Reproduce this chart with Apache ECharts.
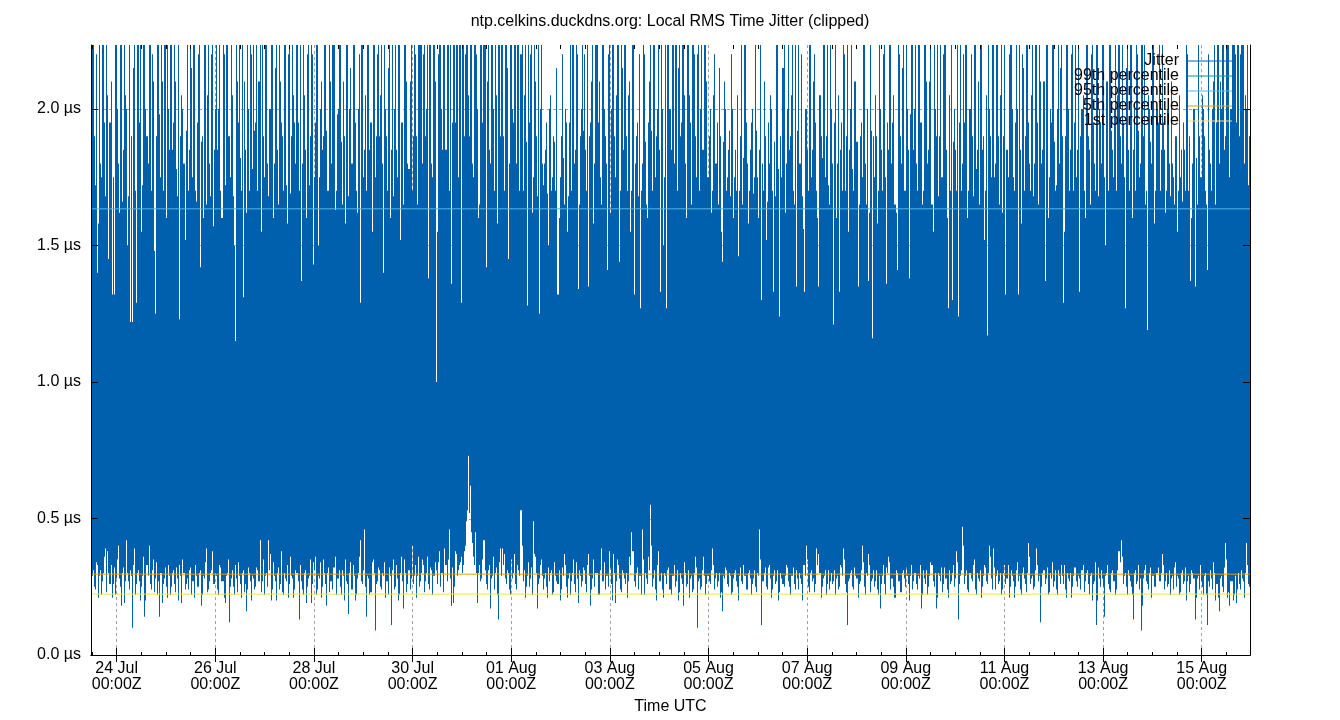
<!DOCTYPE html>
<html>
<head>
<meta charset="utf-8">
<script src="https://cdn.jsdelivr.net/npm/echarts@6/dist/echarts.min.js"></script>
<style>html,body{margin:0;padding:0;background:#fff}#chart{width:1340px;height:720px}</style>
</head>
<body>
<div id="chart"></div>
<script>
// Half-hourly jitter samples (µs): peak and dip of each
// half-hour column, split into the ":00" and ":30" halves of every hour.
const peaksOnHour = [
1.85,2.5,1.72,1.40,2.6,1.75,2.7,1.68,2.05,1.95,1.32,1.32,2.6,1.8,2.6,1.66,2.4,2.0,1.68,1.22,
1.22,2.5,1.29,2.7,2.3,1.72,2.6,1.9,2.8,1.7,2.1,1.25,2.5,1.98,2.6,1.7,2.8,2.3,1.85,2.6,
1.95,2.1,1.68,1.23,2.05,1.8,1.92,1.7,2.4,1.75,2.6,1.66,2.2,1.42,1.9,2.7,1.65,2.5,1.68,2.6,
1.85,2.6,2.0,1.7,2.5,1.72,2.8,1.9,2.6,1.68,1.15,2.1,2.7,1.7,1.31,1.85,2.4,1.7,2.2,2.6,
1.95,1.7,2.6,2.3,1.75,2.7,1.68,2.0,2.6,1.8,2.5,1.65,2.1,1.9,2.6,1.72,2.2,1.69,2.8,1.95,
2.5,1.7,1.37,2.6,1.85,2.2,1.72,2.7,1.43,1.95,2.6,1.75,2.1,1.9,2.5,1.7,2.3,1.8,2.6,1.7,
2.0,2.6,1.65,1.9,2.7,1.68,2.15,1.8,2.5,1.7,2.0,1.29,2.6,1.85,1.7,2.4,1.95,2.6,1.75,2.2,
1.9,2.5,1.40,2.0,1.7,2.6,1.85,1.68,2.3,1.75,2.6,1.95,1.65,2.7,1.8,2.1,1.7,2.5,1.9,2.6,
2.6,1.8,2.7,2.0,1.38,2.6,1.75,2.5,1.00,2.2,2.7,1.85,2.6,2.4,1.7,1.36,2.6,1.95,2.8,2.5,
1.29,2.6,2.2,2.7,1.9,2.6,1.75,2.5,2.0,1.65,2.6,2.3,1.42,2.7,1.8,2.5,1.7,2.05,2.6,1.9,
2.6,1.7,2.4,1.45,2.7,2.0,2.6,1.8,2.5,2.2,1.7,2.6,1.28,1.95,2.7,1.75,2.1,1.68,1.25,2.6,
1.72,1.85,1.69,2.0,1.7,1.9,1.7,1.32,1.75,2.2,1.65,1.95,1.68,2.6,2.7,1.8,2.5,1.34,1.9,2.6,
2.2,1.7,1.35,1.95,2.6,1.8,2.5,2.1,1.65,2.6,1.9,1.41,2.7,2.0,2.5,1.75,2.3,1.44,2.6,1.85,
2.5,1.7,2.1,1.7,1.32,1.9,1.68,1.27,1.8,2.2,1.65,1.95,2.6,1.7,2.4,1.9,2.6,1.33,2.0,1.75,
1.27,2.6,1.85,2.3,2.6,1.7,2.7,1.95,2.6,1.8,2.5,2.05,1.65,2.6,1.9,2.2,1.7,2.4,1.85,2.6,
1.75,2.0,1.7,2.2,1.8,1.65,1.9,1.44,2.1,1.7,1.85,1.68,2.0,1.75,1.7,1.46,1.9,1.65,2.6,1.8,
1.7,1.95,1.69,2.6,1.75,1.85,1.30,1.7,1.9,1.66,1.8,2.0,1.33,1.68,2.6,1.24,1.75,2.7,1.8,2.6,
1.9,2.3,1.65,1.35,2.6,1.8,1.68,1.33,2.0,1.7,2.6,1.85,2.2,1.7,1.35,1.9,2.5,1.75,2.6,1.65,
2.0,1.21,2.6,1.8,1.33,1.95,2.6,1.7,2.3,1.85,2.6,1.7,2.1,1.35,1.9,1.75,2.4,1.65,1.37,2.6,
1.16,1.75,1.9,1.7,2.0,1.7,2.6,1.36,1.85,2.6,1.95,1.65,1.41,2.2,1.8,2.6,1.7,2.0,1.38,2.6,
1.85,2.6,1.7,2.5,1.95,1.7,2.6,1.8,2.1,1.65,2.6,1.9,1.68,2.3,1.75,2.6,1.85,1.27,1.7,1.30,
2.0,1.7,1.24,2.6,1.8,1.95,2.6,1.7,2.2,1.68,2.6,1.85,1.65,2.5,1.9,1.7,1.17,2.0,1.75,2.6,
1.8,2.3,1.65,2.6,1.9,1.32,1.75,2.6,2.0,1.7,2.6,1.32,1.85,2.2,1.7,2.6,1.95,1.7,2.5,1.8,
2.6,1.65,2.1,1.85,1.37,2.6,1.75,1.95,2.6,1.7,2.0,1.8,2.6,1.29,1.9,2.5,1.7,2.2,1.7,2.6,
1.85,1.33,2.0,1.7,2.6,1.9,1.65,2.3,1.8,2.6,1.68,1.95,2.6,1.75,2.1,1.7,2.6,1.85,2.0,1.7,
2.6,1.8,1.95,1.27,2.5,1.7,2.6,1.85,1.7,2.2,1.75,2.6,1.9,1.65,1.19,2.0,1.8,2.6,1.7,1.95,
1.7,2.6,1.85,1.7,2.0,1.68,1.8,1.65,1.9,1.7,1.75,1.66,1.85,2.6,1.7,1.37,1.8,1.35,1.65,1.9,
1.75,2.0,1.7,1.41,1.85,1.7,2.1,1.65,2.6,1.8,2.0,2.6,1.9,2.5,1.75,2.6,2.7,1.95,2.6,2.2,
2.6,1.8,2.0,1.72
];
const peaksHalfPast = [
2.6,1.9,2.2,1.58,1.8,2.6,1.95,2.4,1.45,2.1,1.75,2.6,2.0,1.62,2.7,1.85,2.05,1.5,2.6,1.9,
2.15,1.7,2.6,1.95,1.55,2.5,2.0,1.8,2.6,2.2,1.48,1.9,2.6,1.75,2.1,2.7,1.6,2.0,2.6,1.85,
2.3,1.78,2.6,1.9,2.0,1.52,2.6,1.85,2.15,2.6,1.7,1.95,2.5,1.88,1.6,2.6,2.05,1.8,2.2,1.57,
2.0,1.85,2.6,1.6,2.2,2.6,1.9,1.75,2.05,1.5,2.6,1.95,1.82,2.6,2.1,1.62,2.0,2.6,1.78,1.92,
2.6,2.1,1.55,1.9,2.6,1.8,2.0,2.7,1.6,2.15,1.85,2.6,1.95,1.7,2.3,1.58,2.6,1.9,2.05,1.8,
1.95,2.6,1.8,2.05,1.6,2.6,1.9,2.2,1.75,2.6,1.5,2.0,1.85,2.6,1.92,1.7,2.1,2.6,1.63,1.98,
2.6,1.88,2.1,1.58,2.6,2.0,1.8,2.6,1.95,1.62,2.2,2.6,1.75,2.05,2.6,1.85,1.55,2.3,1.9,2.6,
2.05,1.8,2.6,1.9,2.15,1.6,2.6,2.0,1.85,2.7,1.52,1.95,2.6,2.1,1.78,2.6,1.9,2.2,1.65,2.6,
2.6,2.2,1.9,2.6,2.7,1.8,2.6,2.1,1.55,2.6,2.0,2.6,1.85,2.7,2.6,1.95,2.3,2.6,1.75,2.6,
2.6,1.9,2.6,2.05,2.6,1.8,2.7,2.2,1.6,2.6,1.95,2.6,2.1,1.85,2.6,2.0,2.6,1.58,2.3,2.6,
1.9,2.6,2.15,1.8,2.6,1.95,2.3,2.6,1.7,2.6,2.05,1.88,2.6,2.2,1.62,2.6,1.9,2.6,2.0,1.8,
1.8,1.95,1.5,2.05,1.75,1.88,2.15,1.6,1.9,1.82,2.0,1.55,1.95,1.7,2.6,1.85,2.2,1.65,2.0,1.92,
1.85,2.6,1.9,2.1,1.58,2.6,1.95,1.75,2.6,2.0,1.8,2.2,1.62,2.6,1.9,2.05,2.6,1.7,2.15,2.6,
1.9,2.05,1.55,2.6,1.8,1.95,2.2,1.7,2.6,1.88,1.6,2.1,1.92,2.6,1.75,2.0,1.85,2.6,1.5,2.6,
2.6,2.0,2.6,1.8,2.7,2.15,1.9,2.6,2.05,1.6,2.6,1.95,2.6,2.2,1.75,2.6,2.0,1.85,2.6,2.1,
1.9,1.62,2.05,1.8,1.95,2.15,1.55,1.88,2.0,1.75,1.92,2.2,1.6,1.85,2.05,1.7,2.6,1.82,1.95,1.58,
1.85,2.0,1.75,1.92,1.6,2.6,1.8,2.1,1.52,1.95,2.05,1.7,1.88,2.6,1.78,1.9,2.15,1.62,2.0,1.85,
2.05,1.7,2.6,1.92,1.8,2.2,1.56,2.0,1.85,2.6,1.75,2.1,1.95,1.6,2.05,1.82,2.6,1.9,1.72,2.3,
1.8,1.95,1.6,2.05,1.85,1.7,2.2,1.9,1.55,2.0,1.78,2.1,1.88,1.65,1.95,2.6,1.8,2.0,1.62,1.92,
1.9,2.05,1.58,2.6,1.85,2.2,1.75,1.95,2.6,1.8,2.05,1.62,2.6,1.9,2.15,1.7,2.6,1.85,1.98,2.3,
2.0,1.8,2.6,1.95,1.65,2.6,2.1,1.85,2.6,1.55,2.0,2.6,1.9,1.75,2.2,2.6,1.6,2.05,2.6,1.88,
1.85,2.6,1.95,1.7,2.2,2.6,1.6,2.0,1.9,2.6,1.78,2.1,2.6,1.85,1.52,2.05,2.6,1.9,2.3,1.75,
2.6,1.9,2.05,1.62,2.6,1.85,2.2,2.6,1.75,1.95,2.0,2.6,1.58,2.15,1.9,2.6,1.8,2.05,1.68,2.6,
1.95,2.6,1.8,2.1,2.6,1.6,2.0,2.6,1.88,1.72,2.6,2.15,1.9,1.55,2.6,2.0,1.85,2.6,1.95,1.75,
2.6,1.9,2.05,1.6,2.6,1.85,2.2,1.95,1.7,2.6,2.0,1.8,2.6,1.5,2.1,2.6,1.92,1.75,2.6,2.05,
1.9,2.6,1.75,2.15,1.85,2.6,1.6,2.0,2.6,1.92,1.8,2.3,2.6,1.7,2.05,1.88,2.6,1.58,2.0,2.6,
1.85,1.95,1.62,2.0,1.8,2.1,1.75,1.9,1.55,2.05,1.85,1.95,1.7,2.2,1.9,1.6,2.0,1.82,2.6,1.75,
2.05,1.9,1.65,2.2,1.8,2.0,2.6,1.95,2.6,2.1,2.6,1.85,2.6,2.7,2.0,2.6,2.2,2.6,1.9,2.6,
2.6,2.05,2.6,1.9
];
const dipsOnHour = [
0.27,0.31,0.24,0.33,0.29,0.22,0.30,0.39,0.38,0.26,0.21,0.32,0.28,0.40,0.25,0.30,0.19,0.42,0.27,0.31,
0.10,0.39,0.26,0.31,0.20,0.29,0.14,0.33,0.40,0.24,0.35,0.28,0.22,0.14,0.30,0.26,0.32,0.21,0.29,0.25,
0.31,0.23,0.28,0.33,0.19,0.30,0.26,0.24,0.32,0.27,0.21,0.29,0.25,0.31,0.22,0.28,0.39,0.24,0.30,0.38,
0.26,0.29,0.22,0.32,0.27,0.19,0.30,0.12,0.28,0.25,0.33,0.23,0.29,0.21,0.31,0.26,0.24,0.30,0.20,0.28,
0.25,0.31,0.42,0.27,0.22,0.30,0.42,0.37,0.24,0.29,0.20,0.32,0.26,0.23,0.30,0.27,0.21,0.36,0.28,0.24,
0.30,0.13,0.27,0.22,0.31,0.25,0.29,0.19,0.34,0.36,0.24,0.28,0.21,0.35,0.26,0.30,0.23,0.27,0.32,0.22,
0.28,0.25,0.31,0.20,0.27,0.15,0.34,0.24,0.29,0.22,0.30,0.42,0.26,0.46,0.14,0.28,0.23,0.35,0.09,0.27,
0.31,0.24,0.29,0.21,0.27,0.32,0.11,0.35,0.25,0.28,0.22,0.36,0.17,0.30,0.26,0.24,0.40,0.29,0.21,0.36,
0.27,0.35,0.23,0.30,0.26,0.32,0.22,0.29,0.31,0.34,0.25,0.30,0.39,0.27,0.46,0.18,0.19,0.38,0.29,0.33,
0.36,0.33,0.40,0.53,0.52,0.45,0.36,0.45,0.19,0.33,0.28,0.42,0.26,0.31,0.17,0.29,0.24,0.32,0.13,0.39,
0.39,0.37,0.26,0.30,0.22,0.28,0.37,0.24,0.31,0.53,0.27,0.21,0.29,0.25,0.32,0.49,0.36,0.17,0.28,0.35,
0.24,0.30,0.21,0.27,0.31,0.23,0.29,0.26,0.20,0.32,0.37,0.25,0.28,0.22,0.30,0.26,0.34,0.19,0.29,0.27,
0.31,0.23,0.37,0.18,0.28,0.25,0.30,0.22,0.39,0.27,0.24,0.29,0.38,0.26,0.37,0.19,0.35,0.28,0.23,0.30,
0.26,0.21,0.36,0.45,0.27,0.30,0.24,0.29,0.46,0.22,0.28,0.36,0.55,0.25,0.31,0.20,0.38,0.27,0.24,0.30,
0.26,0.32,0.22,0.29,0.25,0.31,0.23,0.28,0.18,0.30,0.26,0.21,0.29,0.24,0.36,0.10,0.28,0.25,0.36,0.22,
0.29,0.26,0.39,0.24,0.30,0.27,0.21,0.16,0.28,0.31,0.25,0.29,0.23,0.30,0.27,0.20,0.32,0.26,0.29,0.24,
0.31,0.22,0.28,0.25,0.30,0.46,0.11,0.27,0.32,0.24,0.33,0.21,0.29,0.26,0.31,0.23,0.28,0.25,0.33,0.27,
0.22,0.29,0.26,0.31,0.24,0.28,0.20,0.33,0.40,0.25,0.30,0.27,0.23,0.39,0.37,0.21,0.28,0.31,0.26,0.24,
0.30,0.27,0.22,0.29,0.25,0.32,0.39,0.26,0.11,0.28,0.31,0.24,0.29,0.21,0.27,0.40,0.25,0.30,0.37,0.23,
0.28,0.25,0.31,0.22,0.17,0.29,0.26,0.32,0.36,0.24,0.28,0.21,0.30,0.27,0.23,0.31,0.25,0.29,0.20,0.33,
0.27,0.30,0.24,0.28,0.17,0.31,0.26,0.22,0.29,0.33,0.25,0.17,0.30,0.27,0.23,0.32,0.28,0.21,0.26,0.30,
0.25,0.38,0.13,0.29,0.47,0.26,0.31,0.23,0.28,0.33,0.24,0.30,0.27,0.21,0.29,0.32,0.26,0.40,0.28,0.39,
0.24,0.31,0.27,0.22,0.30,0.26,0.33,0.25,0.29,0.21,0.31,0.27,0.24,0.30,0.28,0.23,0.41,0.26,0.29,0.25,
0.39,0.27,0.12,0.30,0.26,0.32,0.23,0.28,0.25,0.31,0.22,0.29,0.33,0.26,0.24,0.30,0.27,0.21,0.29,0.32,
0.25,0.28,0.31,0.23,0.30,0.26,0.29,0.20,0.27,0.11,0.32,0.25,0.28,0.14,0.30,0.26,0.23,0.31,0.27,0.24,
0.38,0.42,0.26,0.30,0.22,0.29,0.25,0.13,0.31,0.27,0.24,0.09,0.28,0.33,0.26,0.30,0.21,0.29,0.25,0.32,
0.27,0.37,0.24,0.30,0.26,0.22,0.29,0.32,0.25,0.28,0.23,0.31,0.27,0.20,0.29,0.26,0.30,0.13,0.28,0.24,
0.27,0.22,0.30,0.11,0.25,0.28,0.34,0.20,0.26,0.16,0.29,0.23,0.41,0.21,0.18,0.27,0.22,0.19,0.30,0.24,
0.28,0.21,0.41,0.26
];
const dipsHalfPast = [
0.29,0.25,0.34,0.21,0.31,0.27,0.36,0.23,0.30,0.33,0.26,0.22,0.35,0.28,0.18,0.32,0.27,0.30,0.24,0.29,
0.33,0.22,0.30,0.27,0.25,0.36,0.20,0.29,0.26,0.31,0.23,0.34,0.27,0.30,0.19,0.28,0.25,0.33,0.22,0.30,
0.26,0.32,0.20,0.29,0.35,0.24,0.28,0.31,0.22,0.27,0.33,0.25,0.30,0.18,0.29,0.34,0.23,0.27,0.31,0.26,
0.30,0.24,0.33,0.27,0.21,0.29,0.35,0.25,0.31,0.22,0.28,0.34,0.26,0.30,0.23,0.16,0.32,0.27,0.29,0.24,
0.32,0.27,0.23,0.35,0.29,0.25,0.31,0.20,0.34,0.27,0.30,0.24,0.38,0.22,0.28,0.33,0.26,0.29,0.21,0.31,
0.27,0.33,0.24,0.30,0.19,0.28,0.35,0.26,0.31,0.22,0.29,0.34,0.25,0.30,0.18,0.32,0.27,0.24,0.36,0.28,
0.31,0.22,0.29,0.35,0.26,0.30,0.24,0.33,0.20,0.28,0.36,0.27,0.31,0.25,0.29,0.22,0.34,0.30,0.26,0.32,
0.25,0.30,0.34,0.27,0.22,0.29,0.31,0.24,0.33,0.20,0.30,0.27,0.35,0.23,0.31,0.28,0.26,0.33,0.29,0.25,
0.30,0.33,0.27,0.36,0.24,0.31,0.29,0.34,0.26,0.38,0.30,0.23,0.33,0.35,0.28,0.32,0.25,0.37,0.31,0.34,
0.30,0.38,0.49,0.73,0.62,0.41,0.33,0.30,0.30,0.27,0.35,0.31,0.24,0.33,0.28,0.36,0.30,0.22,0.34,0.29,
0.33,0.28,0.31,0.24,0.35,0.30,0.26,0.33,0.29,0.40,0.31,0.25,0.34,0.28,0.22,0.37,0.30,0.26,0.33,0.29,
0.28,0.25,0.32,0.30,0.22,0.34,0.27,0.31,0.24,0.29,0.33,0.21,0.30,0.27,0.35,0.23,0.28,0.31,0.25,0.32,
0.26,0.33,0.29,0.24,0.35,0.30,0.22,0.31,0.27,0.34,0.29,0.25,0.32,0.20,0.30,0.27,0.33,0.24,0.31,0.28,
0.30,0.27,0.33,0.38,0.25,0.32,0.29,0.22,0.35,0.30,0.26,0.31,0.40,0.28,0.24,0.33,0.27,0.30,0.21,0.29,
0.31,0.24,0.29,0.33,0.27,0.20,0.30,0.26,0.34,0.25,0.31,0.28,0.23,0.30,0.32,0.27,0.24,0.31,0.29,0.26,
0.27,0.31,0.33,0.28,0.25,0.30,0.23,0.29,0.32,0.26,0.30,0.22,0.28,0.31,0.25,0.29,0.27,0.33,0.24,0.30,
0.28,0.26,0.31,0.23,0.29,0.35,0.27,0.30,0.25,0.32,0.28,0.24,0.31,0.27,0.20,0.30,0.26,0.29,0.32,0.25,
0.29,0.32,0.24,0.28,0.30,0.26,0.33,0.29,0.35,0.23,0.31,0.28,0.26,0.33,0.30,0.25,0.29,0.22,0.31,0.27,
0.26,0.31,0.28,0.24,0.33,0.29,0.35,0.23,0.27,0.30,0.25,0.32,0.28,0.26,0.31,0.34,0.22,0.29,0.33,0.27,
0.31,0.27,0.24,0.29,0.26,0.33,0.22,0.30,0.34,0.28,0.25,0.31,0.27,0.23,0.30,0.28,0.32,0.26,0.29,0.24,
0.30,0.26,0.29,0.33,0.22,0.28,0.31,0.25,0.34,0.27,0.30,0.21,0.29,0.32,0.26,0.28,0.24,0.31,0.27,0.33,
0.28,0.34,0.26,0.31,0.40,0.29,0.24,0.30,0.27,0.35,0.22,0.28,0.31,0.25,0.33,0.27,0.30,0.36,0.24,0.32,
0.29,0.26,0.30,0.24,0.33,0.28,0.21,0.31,0.27,0.25,0.34,0.29,0.22,0.32,0.26,0.30,0.36,0.28,0.24,0.31,
0.33,0.29,0.25,0.31,0.28,0.22,0.30,0.34,0.27,0.24,0.31,0.26,0.29,0.33,0.21,0.28,0.30,0.25,0.32,0.27,
0.29,0.24,0.33,0.27,0.31,0.22,0.30,0.26,0.34,0.20,0.28,0.31,0.25,0.29,0.33,0.24,0.30,0.27,0.22,0.31,
0.34,0.36,0.29,0.25,0.31,0.27,0.22,0.30,0.26,0.33,0.28,0.18,0.31,0.27,0.24,0.32,0.29,0.25,0.30,0.27,
0.30,0.33,0.27,0.25,0.31,0.28,0.24,0.34,0.29,0.22,0.30,0.26,0.32,0.27,0.23,0.31,0.28,0.21,0.29,0.33,
0.25,0.29,0.22,0.27,0.31,0.24,0.30,0.26,0.21,0.28,0.25,0.32,0.35,0.23,0.27,0.20,0.29,0.24,0.26,0.31,
0.27,0.30,0.33,0.25
];
const firstSampleUTC = '2024-07-23T11:45:00Z';   // centre of the first half-hour column
const sampleStepMinutes = 30;

const percentileNames = ['99th percentile', '95th percentile', '5th percentile', '1st percentile'];
const percentileValues = [2.52, 1.634, 0.296, 0.223];

const xRangeUTC = ['2024-07-23T11:30:00Z', '2024-08-15T23:30:00Z'];
const majorTickDays = ['2024-07-24','2024-07-26','2024-07-28','2024-07-30','2024-08-01','2024-08-03',
                       '2024-08-05','2024-08-07','2024-08-09','2024-08-11','2024-08-13','2024-08-15'];
const yRange = [0, 2.234];
const yTickValues = [0, 0.5, 1.0, 1.5, 2.0];

const titleText = 'ntp.celkins.duckdns.org: Local RMS Time Jitter (clipped)';
const xAxisName = 'Time UTC';

// ---- build ----
const HOUR = 3600e3;
const xMin = Date.parse(xRangeUTC[0]);
const xMax = Date.parse(xRangeUTC[1]);
const t0 = Date.parse(firstSampleUTC);
const stepMs = sampleStepMinutes * 60e3;
const jitterData = [];
peaksOnHour.forEach((p, i) => {
  jitterData.push([t0 + (2 * i) * stepMs, dipsOnHour[i], p]);
  jitterData.push([t0 + (2 * i + 1) * stepMs, dipsHalfPast[i], peaksHalfPast[i]]);
});
const majorTicks = majorTickDays.map(d => Date.parse(d + 'T00:00:00Z'));
const minorTicks = [];
for (let t = Math.ceil(xMin / (12 * HOUR)) * 12 * HOUR; t <= xMax; t += 12 * HOUR) {
  if (majorTicks.indexOf(t) < 0) minorTicks.push(t);
}
const yGridValues = yTickValues.filter(v => v > 0);

const MON = ['Jan','Feb','Mar','Apr','May','Jun','Jul','Aug','Sep','Oct','Nov','Dec'];
const pad = n => (n < 10 ? '0' : '') + n;
function fmtTime(v) {
  const d = new Date(v);
  return pad(d.getUTCDate()) + ' ' + MON[d.getUTCMonth()] + '\n' + pad(d.getUTCHours()) + ':' + pad(d.getUTCMinutes()) + 'Z';
}

const FONT = '"Liberation Sans", Arial, sans-serif';
const gridRect = { left: 91, right: 90, top: 45, bottom: 64 };
const black = '#000';
const jitterColor = '#0060ad';
const gridLine = { show: true, lineStyle: { color: '#a0a0a0', width: 1, type: [3, 3] } };
const percentileColors = ['#009e73', '#56b4e9', '#e69f00', '#f0e442'];

function renderColumn(params, api) {
  const t = api.value(0);
  const lo = api.coord([t, api.value(1)]);
  const hi = api.coord([t, api.value(2)]);
  const w = api.size([stepMs, 0])[0];
  const x1 = Math.round(lo[0] - w / 2), x2 = Math.round(lo[0] + w / 2);
  return {
    type: 'rect',
    shape: { x: x1, y: hi[1], width: Math.max(1, x2 - x1), height: lo[1] - hi[1] },
    style: { fill: jitterColor }
  };
}

const chart = echarts.init(document.getElementById('chart'), null, { renderer: 'canvas' });
chart.setOption({
  animation: false,
  backgroundColor: '#fff',
  textStyle: { fontFamily: FONT },
  title: {
    text: titleText, left: 'center', top: 9,
    textStyle: { fontSize: 16, fontWeight: 'normal', color: black, fontFamily: FONT }
  },
  legend: {
    orient: 'vertical', right: 108, top: 53, align: 'right',
    itemWidth: 44, itemHeight: 1, itemGap: -1, icon: 'rect', padding: 0,
    selectedMode: false,
    itemStyle: { borderWidth: 0 },
    lineStyle: { width: 0 },
    textStyle: { fontSize: 16, lineHeight: 15, color: black, fontFamily: FONT, padding: [0, 4, 0, 0] },
    data: ['Jitter'].concat(percentileNames)
  },
  grid: [Object.assign({}, gridRect), Object.assign({}, gridRect), Object.assign({}, gridRect)],
  xAxis: [
    {
      gridIndex: 0, type: 'value', min: xMin, max: xMax, position: 'bottom', z: 0,
      axisLine: { show: false }, axisLabel: { show: false },
      axisTick: { show: false, customValues: majorTicks },
      splitLine: gridLine
    },
    {
      gridIndex: 1, type: 'value', min: xMin, max: xMax, position: 'bottom', z: 5,
      axisLine: { show: true, lineStyle: { color: black, width: 1 } },
      axisTick: { show: true, inside: true, length: 7, lineStyle: { color: black }, customValues: majorTicks },
      axisLabel: {
        show: true, customValues: majorTicks, formatter: fmtTime, margin: 6,
        fontSize: 16, lineHeight: 16, color: black, fontFamily: FONT, align: 'center'
      },
      splitLine: { show: false },
      name: xAxisName, nameLocation: 'middle', nameGap: 44,
      nameTextStyle: { fontSize: 16, color: black, fontFamily: FONT }
    },
    {
      gridIndex: 1, type: 'value', min: xMin, max: xMax, position: 'top', z: 5,
      axisLine: { show: true, lineStyle: { color: black, width: 1 } },
      axisTick: { show: true, inside: true, length: 7, lineStyle: { color: black }, customValues: majorTicks },
      axisLabel: { show: false }, splitLine: { show: false }
    },
    {
      gridIndex: 2, type: 'value', min: xMin, max: xMax, position: 'bottom', z: 5,
      axisLine: { show: false },
      axisTick: { show: true, inside: true, length: 4, lineStyle: { color: black }, customValues: minorTicks },
      axisLabel: { show: false }, splitLine: { show: false }
    },
    {
      gridIndex: 2, type: 'value', min: xMin, max: xMax, position: 'top', z: 5,
      axisLine: { show: false },
      axisTick: { show: true, inside: true, length: 4, lineStyle: { color: black }, customValues: minorTicks },
      axisLabel: { show: false }, splitLine: { show: false }
    }
  ],
  yAxis: [
    {
      gridIndex: 0, type: 'value', min: yRange[0], max: yRange[1], position: 'left', z: 0,
      axisLine: { show: false }, axisLabel: { show: false },
      axisTick: { show: false, customValues: yGridValues },
      splitLine: gridLine
    },
    {
      gridIndex: 1, type: 'value', min: yRange[0], max: yRange[1], position: 'left', z: 5,
      axisLine: { show: true, lineStyle: { color: black, width: 1 } },
      axisTick: { show: true, inside: true, length: 7, lineStyle: { color: black }, customValues: yTickValues },
      axisLabel: {
        show: true, customValues: yTickValues, margin: 10,
        formatter: v => v.toFixed(1) + ' µs',
        fontSize: 16, color: black, fontFamily: FONT
      },
      splitLine: { show: false }
    },
    {
      gridIndex: 1, type: 'value', min: yRange[0], max: yRange[1], position: 'right', z: 5,
      axisLine: { show: true, lineStyle: { color: black, width: 1 } },
      axisTick: { show: true, inside: true, length: 7, lineStyle: { color: black }, customValues: yTickValues },
      axisLabel: { show: false }, splitLine: { show: false }
    },
    {
      gridIndex: 2, type: 'value', min: yRange[0], max: yRange[1], show: false
    }
  ],
  series: [
    {
      name: 'Jitter', type: 'custom', xAxisIndex: 1, yAxisIndex: 1,
      data: jitterData, encode: { x: 0, y: [1, 2] },
      renderItem: renderColumn, clip: true, silent: true, z: 2,
      color: jitterColor, itemStyle: { color: jitterColor }
    }
  ].concat(percentileNames.map((n, k) => ({
    name: n, type: 'line', xAxisIndex: 1, yAxisIndex: 1,
    data: [[xMin, percentileValues[k]], [xMax, percentileValues[k]]],
    symbol: 'none', showSymbol: false,
    color: percentileColors[k], lineStyle: { width: 1, color: percentileColors[k] },
    silent: true, z: 3, clip: true
  })))
});
</script>
</body>
</html>
